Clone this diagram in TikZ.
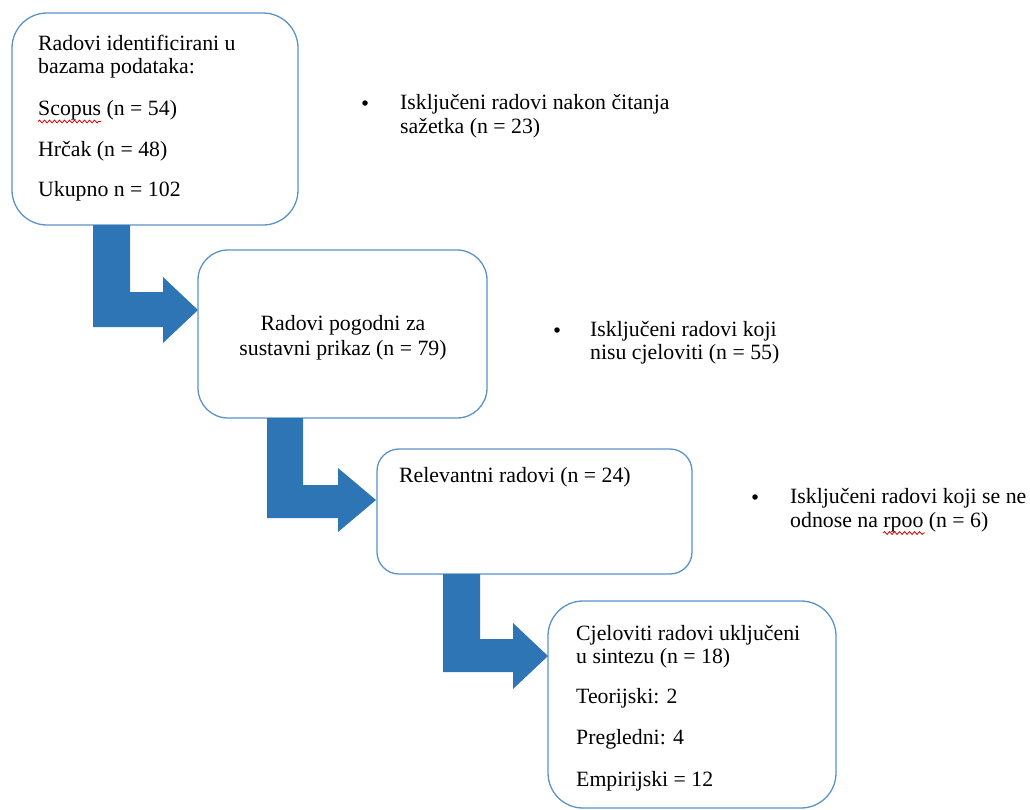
\documentclass[tikz,border=0pt]{standalone}
\usepackage{fontspec}
\setmainfont{Liberation Serif}
\usetikzlibrary{decorations.pathmorphing}
\definecolor{arrowblue}{HTML}{2E75B6}
\definecolor{boxline}{HTML}{5B93C9}
\tikzset{
  box/.style={draw=boxline, line width=1.3pt, fill=white, inner sep=0pt},
  txt/.style={anchor=base west, inner sep=0pt, font=\fontsize{21.8}{23}\selectfont},
  ctxt/.style={anchor=base, inner sep=0pt, font=\fontsize{21.8}{23}\selectfont},
  bigarrow/.style={fill=arrowblue, draw=none},
  bul/.style={circle, fill=black, inner sep=0pt, minimum size=5.5pt},
  squig/.style={draw=red!85!black, line width=0.8pt, decorate, decoration={snake, amplitude=1.4pt, segment length=5pt}}
}
\begin{document}
\begin{tikzpicture}[x=1pt,y=-1pt]
\useasboundingbox (0,0) rectangle (1030,809);
% boxes
\node[box, rounded corners=35pt, minimum width=286pt, minimum height=212pt] (b1) at (155,119) {};
\node[box, rounded corners=30pt, minimum width=289pt, minimum height=168pt] (b2) at (342.5,334) {};
\node[box, rounded corners=22pt, minimum width=315pt, minimum height=125pt] (b3) at (534.5,511.5) {};
\node[box, rounded corners=35pt, minimum width=288pt, minimum height=207pt] (b4) at (692,704.5) {};
% block arrows
\fill[bigarrow] (93,225) -- (130,225) -- (130,292) -- (163,292) -- (163,277) -- (198,310)
  -- (163,343) -- (163,327) -- (93,327) -- cycle;
\fill[bigarrow] (267,418) -- (303,418) -- (303,485) -- (338,485) -- (338,468) -- (376,500)
  -- (338,532) -- (338,518) -- (267,518) -- cycle;
\fill[bigarrow] (443,574) -- (480,574) -- (480,639) -- (513,639) -- (513,623) -- (548,656)
  -- (513,689) -- (513,672) -- (443,672) -- cycle;
% box 1 text
\node[txt] (t1a) at (38,50) {Radovi identificirani u};
\node[txt] (t1b) at (38,73) {bazama podataka:};
\node[txt] (t1c) at (38,115) {Scopus (n = 54)};
\node[txt] (t1d) at (38,156) {Hrčak (n = 48)};
\node[txt] (t1e) at (38,196) {Ukupno n = 102};
\draw[squig] (38,121.5) -- (101,121.5);
% box 2 text
\node[ctxt] (t2a) at (343,330) {Radovi pogodni za};
\node[ctxt] (t2b) at (343,355) {sustavni prikaz (n = 79)};
% box 3 text
\node[txt] (t3a) at (399,482) {Relevantni radovi (n = 24)};
% box 4 text
\node[txt] (t4a) at (576,640) {Cjeloviti radovi uključeni};
\node[txt] (t4b) at (576,663) {u sintezu (n = 18)};
\node[txt] (t4c) at (576,703) {Teorijski: 2};
\node[txt] (t4d) at (576,744) {Pregledni: 4};
\node[txt] (t4e) at (576,786) {Empirijski = 12};
% excluded notes
\node[bul] (u1) at (365,103) {};
\node[txt] (e1a) at (400,109) {Isključeni radovi nakon čitanja};
\node[txt] (e1b) at (400,133) {sažetka (n = 23)};
\node[bul] (u2) at (557,330) {};
\node[txt] (e2a) at (590,336) {Isključeni radovi koji};
\node[txt] (e2b) at (590,359) {nisu cjeloviti (n = 55)};
\node[bul] (u3) at (755,497) {};
\node[txt] (e3a) at (790,503) {Isključeni radovi koji se ne};
\node[txt] (e3b) at (790,527) {odnose na rpoo (n = 6)};
\draw[squig] (883,533) -- (925,533);
\end{tikzpicture}
\end{document}
